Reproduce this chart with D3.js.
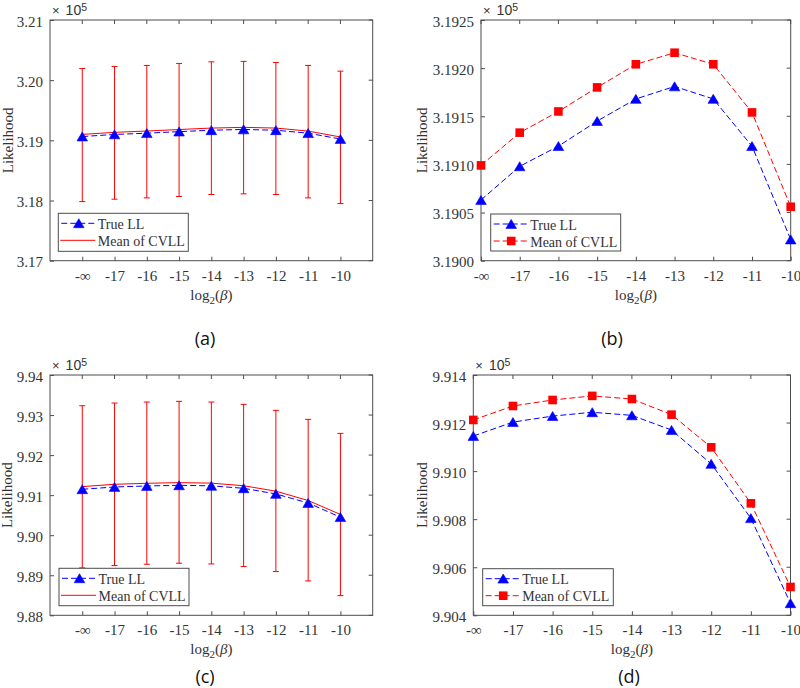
<!DOCTYPE html>
<html>
<head>
<meta charset="utf-8">
<script src="https://cdn.jsdelivr.net/npm/d3@7"></script>
<style>
  html, body { margin: 0; padding: 0; background: #fff; }
  svg { display: block; }
</style>
</head>
<body>
<script>
// ---------------- DATA ----------------
const categories = ["-\u221E", "-17", "-16", "-15", "-14", "-13", "-12", "-11", "-10"];

// Dataset 1 (panels a, b), values in units of 10^5
const trueLL1    = [3.19063, 3.19098, 3.19119, 3.19145, 3.19168, 3.19181, 3.19168, 3.19119, 3.19022];
const meanCVLL1  = [3.19099, 3.19133, 3.19155, 3.19180, 3.19204, 3.19216, 3.19204, 3.19154, 3.19056];
const upperCV1   = [3.20195, 3.20228, 3.20245, 3.20278, 3.20305, 3.20312, 3.20295, 3.20245, 3.20150];
const lowerCV1   = [3.17983, 3.18022, 3.18044, 3.18067, 3.18100, 3.18111, 3.18100, 3.18044, 3.17950];

// Dataset 2 (panels c, d), values in units of 10^5
const trueLL2    = [9.91146, 9.91204, 9.91229, 9.91245, 9.91232, 9.91171, 9.91030, 9.90804, 9.90450];
const meanCVLL2  = [9.91213, 9.91271, 9.91296, 9.91313, 9.91300, 9.91235, 9.91099, 9.90866, 9.90518];
const upperCV2   = [9.93233, 9.93300, 9.93325, 9.93342, 9.93325, 9.93267, 9.93117, 9.92892, 9.92542];
const lowerCV2   = [9.89183, 9.89242, 9.89275, 9.89300, 9.89283, 9.89217, 9.89092, 9.88858, 9.88492];

// Tick values and labels
const yTicksA = [3.17, 3.18, 3.19, 3.20, 3.21];
const yTickLabelsA = ["3.17", "3.18", "3.19", "3.20", "3.21"];
const yTicksB = [3.1900, 3.1905, 3.1910, 3.1915, 3.1920, 3.1925];
const yTickLabelsB = ["3.1900", "3.1905", "3.1910", "3.1915", "3.1920", "3.1925"];
const yTicksC = [9.88, 9.89, 9.90, 9.91, 9.92, 9.93, 9.94];
const yTickLabelsC = ["9.88", "9.89", "9.90", "9.91", "9.92", "9.93", "9.94"];
const yTicksD = [9.904, 9.906, 9.908, 9.910, 9.912, 9.914];
const yTickLabelsD = ["9.904", "9.906", "9.908", "9.910", "9.912", "9.914"];

const legendLabels = ["True LL", "Mean of CVLL"];
const panelLetters = ["(a)", "(b)", "(c)", "(d)"];

// ---------------- STYLE / LAYOUT ----------------
const BLUE = "#0000ff", RED = "#ff0000", AXIS = "#4d4d4d", TXT = "#333333";
const SERIF = "'Liberation Serif', 'Times New Roman', serif";
const SANS = "'Liberation Sans', Arial, sans-serif";

const panels = [
  { key: "a", x0: 50, x1: 372.7, y0: 20, y1: 260.7, xDomain: [-1, 9], yDomain: [3.17, 3.21],
    ticks: yTicksA, tickLabels: yTickLabelsA, trueLL: trueLL1, mean: meanCVLL1, upper: upperCV1, lower: lowerCV1,
    mode: "err", legend: { x: 58.3, y: 213.3, w: 130, h: 38 }, ylabX: 13.3, letter: { x: 205, y: 345 } },
  { key: "b", x0: 481, x1: 790.7, y0: 20, y1: 260.7, xDomain: [0, 8], yDomain: [3.19, 3.1925],
    ticks: yTicksB, tickLabels: yTickLabelsB, trueLL: trueLL1, mean: meanCVLL1,
    mode: "marker", legend: { x: 490.7, y: 214, w: 130, h: 37 }, ylabX: 427, letter: { x: 612, y: 345 } },
  { key: "c", x0: 50, x1: 372.7, y0: 375, y1: 615.3, xDomain: [-1, 9], yDomain: [9.88, 9.94],
    ticks: yTicksC, tickLabels: yTickLabelsC, trueLL: trueLL2, mean: meanCVLL2, upper: upperCV2, lower: lowerCV2,
    mode: "err", legend: { x: 59, y: 568.3, w: 130, h: 37.4 }, ylabX: 12, letter: { x: 205, y: 683 } },
  { key: "d", x0: 473.3, x1: 790.5, y0: 375, y1: 615.3, xDomain: [0, 8], yDomain: [9.904, 9.914],
    ticks: yTicksD, tickLabels: yTickLabelsD, trueLL: trueLL2, mean: meanCVLL2,
    mode: "marker", legend: { x: 482.7, y: 568.7, w: 130.6, h: 37 }, ylabX: 427, letter: { x: 629, y: 683 } }
];

const svg = d3.select("body").append("svg")
  .attr("width", 800).attr("height", 688)
  .style("background", "#fff");

const triPath = "M0,-4.6L5.3,4.4L-5.3,4.4Z";
const sqSize = 8.6;

function drawTri(g, cx, cy) {
  g.append("path").attr("d", triPath).attr("transform", `translate(${cx},${cy})`)
    .attr("fill", BLUE).attr("stroke", BLUE).attr("stroke-width", 0.6);
}
function drawSq(g, cx, cy) {
  g.append("rect").attr("x", cx - sqSize / 2).attr("y", cy - sqSize / 2)
    .attr("width", sqSize).attr("height", sqSize).attr("fill", RED);
}

panels.forEach(p => {
  const g = svg.append("g").attr("class", "panel-" + p.key);
  const x = d3.scaleLinear().domain(p.xDomain).range([p.x0, p.x1]);
  const y = d3.scaleLinear().domain(p.yDomain).range([p.y1, p.y0]);
  const idx = d3.range(categories.length);

  // Axes (bottom and left) with inward ticks
  const xAxis = d3.axisBottom(x).tickValues(idx).tickFormat(i => categories[i])
    .tickSizeInner(-4).tickSizeOuter(0).tickPadding(9.5);
  const yAxis = d3.axisLeft(y).tickValues(p.ticks).tickFormat((d, i) => p.tickLabels[i])
    .tickSizeInner(-4).tickSizeOuter(0).tickPadding(7);

  const gx = g.append("g").attr("transform", `translate(0,${p.y1})`).call(xAxis);
  const gy = g.append("g").attr("transform", `translate(${p.x0},0)`).call(yAxis);
  [gx, gy].forEach(ax => {
    ax.select(".domain").remove();
    ax.selectAll(".tick line").attr("stroke", AXIS);
    ax.selectAll(".tick text").attr("fill", TXT).style("font-family", SERIF).style("font-size", "15px");
  });
  gy.selectAll(".tick text").attr("dy", "0.4em");

  // mirrored ticks on top and right
  g.append("g").selectAll("line").data(idx).join("line")
    .attr("x1", d => x(d)).attr("x2", d => x(d)).attr("y1", p.y0).attr("y2", p.y0 + 4)
    .attr("stroke", AXIS);
  g.append("g").selectAll("line").data(p.ticks).join("line")
    .attr("x1", p.x1).attr("x2", p.x1 - 4).attr("y1", d => y(d)).attr("y2", d => y(d))
    .attr("stroke", AXIS);

  // box
  g.append("rect").attr("x", p.x0).attr("y", p.y0)
    .attr("width", p.x1 - p.x0).attr("height", p.y1 - p.y0)
    .attr("fill", "none").attr("stroke", AXIS).attr("stroke-width", 1);

  // ×10^5 exponent label
  const ex = g.append("text").attr("x", p.x0 + 2).attr("y", p.y0 - 5)
    .style("font-family", SANS).style("font-size", "14px").attr("fill", TXT);
  ex.append("tspan").text("\u00D7").style("font-size", "13px");
  ex.append("tspan").attr("dx", 6).text("10");
  ex.append("tspan").attr("dy", -4.5).style("font-size", "10.5px").text("5");

  // y label
  g.append("text").attr("transform", `translate(${p.ylabX},${(p.y0 + p.y1) / 2}) rotate(-90)`)
    .attr("text-anchor", "middle").style("font-family", SERIF).style("font-size", "15px")
    .attr("fill", TXT).text("Likelihood");

  // x label
  const xl = g.append("text").attr("x", (p.x0 + p.x1) / 2).attr("y", p.y1 + 39)
    .attr("text-anchor", "middle").style("font-family", SERIF).style("font-size", "15px").attr("fill", TXT);
  xl.append("tspan").text("log");
  xl.append("tspan").attr("dy", 4).style("font-size", "11px").text("2");
  xl.append("tspan").attr("dy", -4).text("(");
  xl.append("tspan").style("font-style", "italic").text("\u03B2");
  xl.append("tspan").text(")");

  // panel letter
  g.append("text").attr("x", p.letter.x).attr("y", p.letter.y).attr("text-anchor", "middle")
    .style("font-family", "'Open Sans', 'Liberation Sans', sans-serif").style("font-size", "18px")
    .attr("fill", "#111").text(panelLetters[panels.indexOf(p)]);

  const data = g.append("g");
  const line = d3.line().x(d => x(d[0])).y(d => y(d[1]));

  if (p.mode === "err") {
    // error bars
    idx.forEach(i => {
      data.append("line").attr("x1", x(i)).attr("x2", x(i))
        .attr("y1", y(p.lower[i])).attr("y2", y(p.upper[i])).attr("stroke", RED).attr("stroke-width", 1);
      [p.lower[i], p.upper[i]].forEach(v => {
        data.append("line").attr("x1", x(i) - 3).attr("x2", x(i) + 3)
          .attr("y1", y(v)).attr("y2", y(v)).attr("stroke", RED).attr("stroke-width", 1);
      });
    });
    // mean line (solid red)
    data.append("path").datum(idx.map(i => [i, p.mean[i]])).attr("d", line)
      .attr("fill", "none").attr("stroke", RED).attr("stroke-width", 1);
    // true LL dashed blue with triangles
    data.append("path").datum(idx.map(i => [i, p.trueLL[i]])).attr("d", line)
      .attr("fill", "none").attr("stroke", BLUE).attr("stroke-width", 1).attr("stroke-dasharray", "6,3");
    idx.forEach(i => drawTri(data, x(i), y(p.trueLL[i])));
  } else {
    data.append("path").datum(idx.map(i => [i, p.trueLL[i]])).attr("d", line)
      .attr("fill", "none").attr("stroke", BLUE).attr("stroke-width", 1).attr("stroke-dasharray", "6,3");
    data.append("path").datum(idx.map(i => [i, p.mean[i]])).attr("d", line)
      .attr("fill", "none").attr("stroke", RED).attr("stroke-width", 1).attr("stroke-dasharray", "6,3");
    idx.forEach(i => drawTri(data, x(i), y(p.trueLL[i])));
    idx.forEach(i => drawSq(data, x(i), y(p.mean[i])));
  }

  // legend
  const L = p.legend;
  const lg = g.append("g");
  lg.append("rect").attr("x", L.x).attr("y", L.y).attr("width", L.w).attr("height", L.h)
    .attr("fill", "#fff").attr("stroke", AXIS).attr("stroke-width", 1);
  const rows = [L.y + 10, L.y + 27];
  // row 1: True LL
  lg.append("line").attr("x1", L.x + 2).attr("x2", L.x + 37).attr("y1", rows[0]).attr("y2", rows[0])
    .attr("stroke", BLUE).attr("stroke-dasharray", "6,3").attr("stroke-dashoffset", -1);
  drawTri(lg, L.x + 20.5, rows[0]);
  // row 2: Mean of CVLL
  if (p.mode === "err") {
    lg.append("line").attr("x1", L.x + 2).attr("x2", L.x + 37).attr("y1", rows[1]).attr("y2", rows[1])
      .attr("stroke", RED);
  } else {
    lg.append("line").attr("x1", L.x + 2).attr("x2", L.x + 37).attr("y1", rows[1]).attr("y2", rows[1])
      .attr("stroke", RED).attr("stroke-dasharray", "6,3").attr("stroke-dashoffset", -1);
    drawSq(lg, L.x + 20.5, rows[1]);
  }
  legendLabels.forEach((t, k) => {
    lg.append("text").attr("x", L.x + 39.5).attr("y", rows[k] + 5.5)
      .style("font-family", SERIF).style("font-size", "14px").attr("fill", TXT).text(t);
  });
});
</script>
</body>
</html>
